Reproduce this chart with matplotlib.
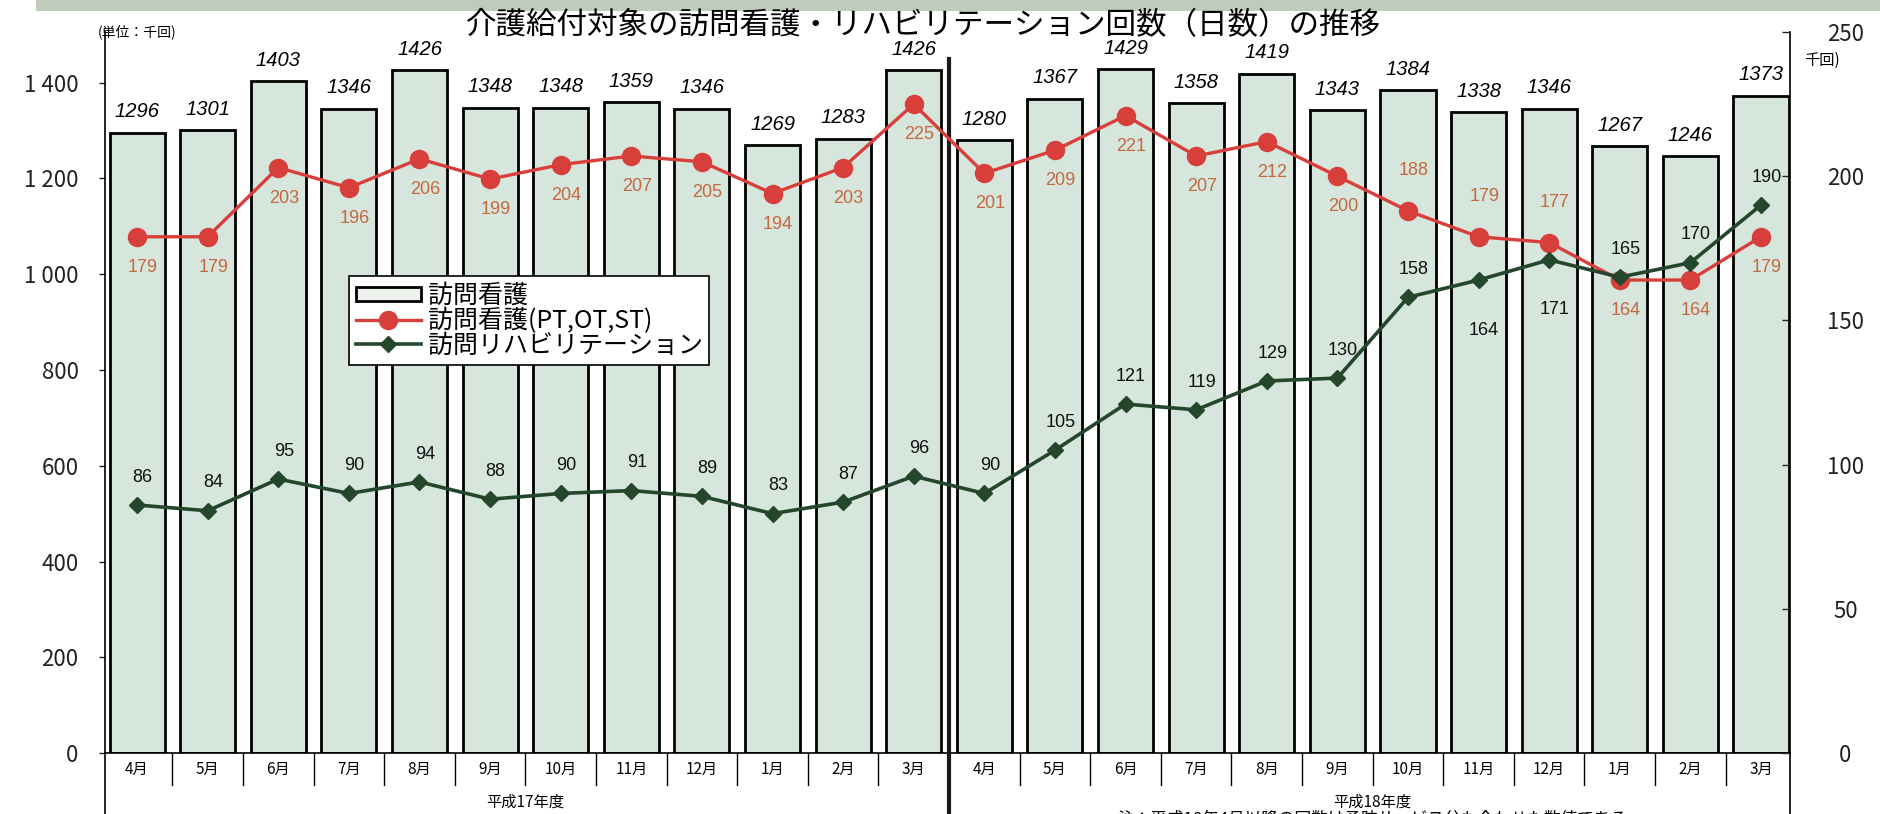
import matplotlib
matplotlib.use("Agg")
import matplotlib.pyplot as plt
import matplotlib.transforms as mtransforms
from matplotlib.patches import Patch, Rectangle
from matplotlib.lines import Line2D

plt.rcParams['font.family'] = ['Noto Sans CJK JP', 'DejaVu Sans']

# data (千回)
months = ["4月", "5月", "6月", "7月", "8月", "9月", "10月", "11月", "12月", "1月", "2月", "3月",
          "4月", "5月", "6月", "7月", "8月", "9月", "10月", "11月", "12月", "1月", "2月", "3月"]
years = ["平成17年度", "平成18年度"]
houmon_kango = [1296, 1301, 1403, 1346, 1426, 1348, 1348, 1359, 1346, 1269, 1283, 1426,
                1280, 1367, 1429, 1358, 1419, 1343, 1384, 1338, 1346, 1267, 1246, 1373]
kango_pt = [179, 179, 203, 196, 206, 199, 204, 207, 205, 194, 203, 225,
            201, 209, 221, 207, 212, 200, 188, 179, 177, 164, 164, 179]
houmon_riha = [86, 84, 95, 90, 94, 88, 90, 91, 89, 83, 87, 96,
               90, 105, 121, 119, 129, 130, 158, 164, 171, 165, 170, 190]
left_ticks = [0, 200, 400, 600, 800, 1000, 1200, 1400]
right_ticks = [0, 50, 100, 150, 200, 250]

bar_fill = "#d6e6dc"
red = "#d83f3b"
red_text = "#c4683f"
green = "#24472c"

fig = plt.figure(figsize=(18.8, 8.14), dpi=100)
ax = fig.add_axes([0.0559, 0.0749, 0.8962, 0.8858])
x = list(range(len(months)))

# scanned top strip
fig.patches.append(Rectangle((36 / 1880, 1 - 11 / 814), 1, 11 / 814, transform=fig.transFigure,
                             facecolor="#c0ccbb", edgecolor="none", zorder=0))

ax.bar(x, houmon_kango, width=0.78, color=bar_fill, edgecolor="black", linewidth=2, zorder=2)
for xi, v in zip(x, houmon_kango):
    ax.annotate(str(v), (xi, v), xytext=(0, 15), textcoords="offset points", ha="center", va="center",
                fontsize=14.5, style="italic", family=["Liberation Sans", "DejaVu Sans"], zorder=3)

ax.set_xlim(-0.453, 23.41)
ax.set_ylim(0, 1506)
ax.set_yticks(left_ticks, [f"{t:,}".replace(",", " ") for t in left_ticks])
ax.tick_params(axis="y", direction="out", length=4, width=1, pad=15, labelsize=16, colors="#222222")
ax.set_xticks(x, months)
ax.tick_params(axis="x", length=0, pad=6, labelsize=11)
ax.spines["top"].set_visible(False)
ax.spines["right"].set_visible(False)
for s in ("left", "bottom"):
    ax.spines[s].set_linewidth(1.2)

# month separators and lower frame
trans = mtransforms.blended_transform_factory(ax.transData, ax.transAxes)
for i in range(len(months) - 1):
    if i == 11:
        continue
    ax.plot([i + 0.5, i + 0.5], [0, -0.044], transform=trans, color="black", lw=1, clip_on=False)
ax.plot([-0.453, -0.453], [0, -0.09], transform=trans, color="black", lw=1.2, clip_on=False)
ax.plot([23.41, 23.41], [0, -0.09], transform=trans, color="black", lw=1.2, clip_on=False)
ax.plot([11.5, 11.5], [0.962, -0.09], transform=trans, color="#1a1a1a", lw=3, clip_on=False, zorder=6)
ax.text(5.5, -0.068, years[0], transform=trans, ha="center", va="center", fontsize=11)
ax.text(17.5, -0.068, years[1], transform=trans, ha="center", va="center", fontsize=11)
fig.text(0.73, 0.004, "注：平成18年4月以降の回数は予防サービス分も合わせた数値である",
         ha="center", va="top", fontsize=12)

ax2 = ax.twinx()
ax2.set_ylim(0, 250)
ax2.set_yticks(right_ticks)
ax2.tick_params(axis="y", direction="in", length=6, width=1, pad=40, labelsize=16, colors="#222222")
for lbl in ax2.get_yticklabels():
    lbl.set_horizontalalignment("center")
for s in ("top", "left", "bottom"):
    ax2.spines[s].set_visible(False)
ax2.spines["right"].set_linewidth(1.2)

ax2.plot(x, kango_pt, color=red, lw=2.4, marker="o", markersize=13, markerfacecolor=red,
         markeredgecolor=red, zorder=4)
ax2.plot(x, houmon_riha, color=green, lw=2.6, marker="D", markersize=8, markerfacecolor=green,
         markeredgecolor=green, zorder=5)

for xi, v in zip(x, kango_pt):
    dy = 29 if xi in (18, 19, 20) else -22
    ax2.annotate(str(v), (xi, v), xytext=(4, dy), textcoords="offset points", ha="center",
                 va="center", fontsize=13, color=red_text, family=["Liberation Sans", "DejaVu Sans"])
for xi, v in zip(x, houmon_riha):
    dy = -36 if xi in (19, 20) else 20
    ax2.annotate(str(v), (xi, v), xytext=(4, dy), textcoords="offset points", ha="center",
                 va="center", fontsize=13, color="#111111", family=["Liberation Sans", "DejaVu Sans"])

handles = [Patch(facecolor="#eef3ee", edgecolor="black", linewidth=2),
           Line2D([], [], color=red, lw=2.4, marker="o", markersize=13),
           Line2D([], [], color=green, lw=2.6, marker="D", markersize=8)]
labels = ["訪問看護", "訪問看護(PT,OT,ST)", "訪問リハビリテーション"]
leg = ax2.legend(handles, labels, loc="upper left", bbox_to_anchor=(0.145, 0.661), borderaxespad=0,
                 fontsize=18, fancybox=False, framealpha=1, edgecolor="black", labelspacing=-0.05,
                 handlelength=2.6, handleheight=0.5, handletextpad=0.3, borderpad=0.25)
leg.get_frame().set_linewidth(1.2)
leg.set_zorder(10)

ax.text(-0.55, 1.0, "(単位：千回)", transform=trans, ha="left", va="center", fontsize=10,
        clip_on=False)
fig.text(1822 / 1880, 1 - 60 / 814, "千回)", ha="center", va="center", fontsize=11)
fig.text(0.491, 0.969, "介護給付対象の訪問看護・リハビリテーション回数（日数）の推移",
         ha="center", va="center", fontsize=22)

fig.savefig("out.png", dpi=100, facecolor="white")
